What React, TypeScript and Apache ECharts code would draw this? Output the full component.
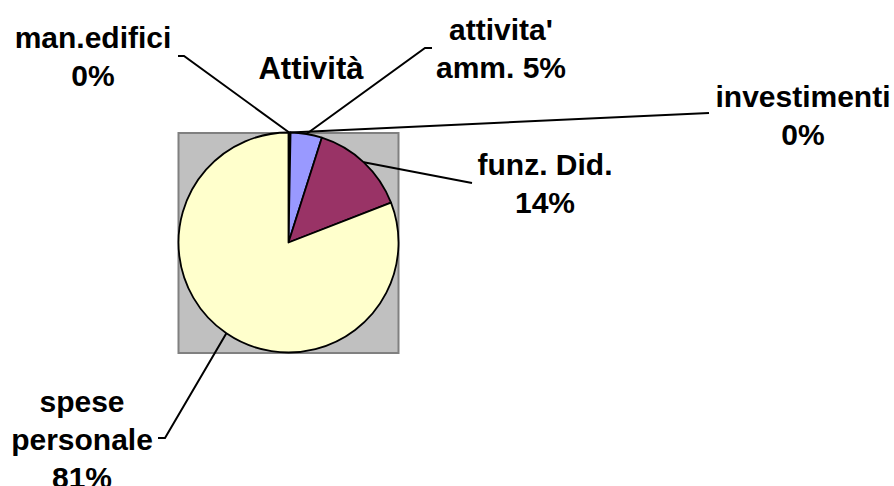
import React, { useEffect, useRef } from "react";
import * as echarts from "echarts";

// ---- data ----
const categories = ["man.edifici", "investimenti", "attivita' amm.", "funz. Did.", "spese personale"];
const values = [0.2, 0.1, 4.6, 14.2, 80.9];
const sliceColors = ["#CCFFFF", "#660066", "#9999FF", "#993366", "#FFFFCC"];
// how each label's name is written (line breaks) and what joins it to the percent
const labelNames = ["man.edifici", "investimenti", "attivita'\namm.", "funz. Did.", "spese\npersonale"];
const labelJoins = ["\n", "\n", " ", "\n", "\n"];
const titleText = "Attività";

// ---- layout (not data) ----
const CX = 288.5;
const CY = 242.5;
const R = 110;
const labelSpots = [
  { x: 93, y: 56, line: [[184, 56], [178, 56]] },
  { x: 803, y: 115, line: [[709, 113], [709, 113]] },
  { x: 501, y: 48, line: [[425, 48], [432, 48]] },
  { x: 545, y: 183, line: [[472, 183], [472, 183]] },
  { x: 82, y: 439, line: [[165, 438], [158, 438]] },
];

const FONT = "Arial, 'Liberation Sans', sans-serif";

export default function App() {
  const ref = useRef<HTMLDivElement>(null);

  useEffect(() => {
    if (!ref.current) return;
    const chart = echarts.init(ref.current, undefined, { renderer: "svg" });
    const total = values.reduce((a, b) => a + b, 0);

    chart.setOption({
      animation: false,
      backgroundColor: "#FFFFFF",
      graphic: [
        {
          type: "rect",
          z: -10,
          silent: true,
          shape: { x: CX - R, y: CY - R + 0.5, width: 2 * R, height: 2 * R },
          style: { fill: "#C0C0C0", stroke: "#808080", lineWidth: 2 },
        },
        {
          type: "text",
          silent: true,
          x: 311,
          y: 68,
          style: {
            text: titleText,
            align: "center",
            verticalAlign: "middle",
            fontFamily: FONT,
            fontWeight: "bold",
            fontSize: 31,
            fill: "#000000",
          },
        },
      ],
      series: [
        {
          type: "pie",
          center: [CX, CY],
          radius: R,
          startAngle: 90,
          clockwise: true,
          avoidLabelOverlap: false,
          emphasis: { disabled: true },
          itemStyle: { borderColor: "#000000", borderWidth: 1.8 },
          label: {
            show: true,
            color: "#000000",
            fontFamily: FONT,
            fontWeight: "bold",
            fontSize: 30,
            lineHeight: 38,
            align: "center",
            formatter: (p: any) =>
              labelNames[p.dataIndex] + labelJoins[p.dataIndex] + Math.round((p.value / total) * 100) + "%",
          },
          labelLine: {
            show: true,
            length: 20,
            length2: 20,
            lineStyle: { color: "#000000", width: 2 },
          },
          labelLayout: (params: any) => {
            const spot = labelSpots[params.dataIndex];
            const start = params.labelLinePoints ? params.labelLinePoints[0] : [CX, CY - R];
            return {
              x: spot.x,
              y: spot.y,
              align: "center",
              verticalAlign: "middle",
              labelLinePoints: [start, spot.line[0], spot.line[1]],
            };
          },
          data: categories.map((name, i) => ({
            name,
            value: values[i],
            itemStyle: { color: sliceColors[i] },
          })),
        },
      ],
    });

    return () => chart.dispose();
  }, []);

  return (
    <div
      ref={ref}
      style={{ position: "absolute", left: 0, top: 0, width: 894, height: 486, background: "#FFFFFF" }}
    />
  );
}
